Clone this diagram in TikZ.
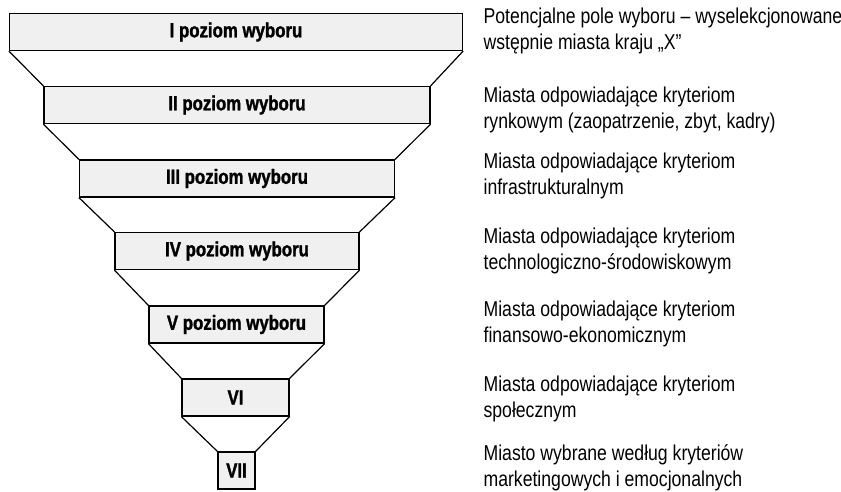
\documentclass[tikz,border=0pt]{standalone}
\usepackage{fontspec}
\setmainfont{Liberation Sans}[FakeStretch=0.82,BoldFeatures={FakeBold=1.5}]
\usetikzlibrary{positioning}

\begin{document}
\begin{tikzpicture}
		[x=1pt,y=-1pt,line width=1.2pt,
		level box/.style={draw,fill=black!6,minimum height=37pt,inner sep=0pt,font=\fontsize{20.5}{22}\selectfont\bfseries},
		desc/.style={anchor=west,align=left,inner sep=0pt,font=\fontsize{21.5}{26}\selectfont}]
		\useasboundingbox (0,0) rectangle (841,491);
		
		\node[level box,minimum width=453pt] (lvl1) at (236,32) {I poziom wyboru};
		\node[level box,minimum width=386pt] (lvl2) at (237,105) {II poziom wyboru};
		\node[level box,minimum width=315pt] (lvl3) at (237,178.5) {III poziom wyboru};
		\node[level box,minimum width=244pt] (lvl4) at (237,251) {IV poziom wyboru};
		\node[level box,minimum width=175pt] (lvl5) at (236.5,324.5) {V poziom wyboru};
		\node[level box,minimum width=107pt] (lvl6) at (235.5,397.5) {VI};
		\node[level box,minimum width=37pt] (lvl7) at (236.5,470.5) {VII};
		
		\draw (lvl1.south west) -- (lvl2.north west);
		\draw (lvl1.south east) -- (lvl2.north east);
		\draw (lvl2.south west) -- (lvl3.north west);
		\draw (lvl2.south east) -- (lvl3.north east);
		\draw (lvl3.south west) -- (lvl4.north west);
		\draw (lvl3.south east) -- (lvl4.north east);
		\draw (lvl4.south west) -- (lvl5.north west);
		\draw (lvl4.south east) -- (lvl5.north east);
		\draw (lvl5.south west) -- (lvl6.north west);
		\draw (lvl5.south east) -- (lvl6.north east);
		\draw (lvl6.south west) -- (lvl7.north west);
		\draw (lvl6.south east) -- (lvl7.north east);
		
		\node[desc] (desc1) at (483,31) {Potencjalne pole wyboru -- wyselekcjonowane\\wstępnie miasta kraju „X''};
		\node[desc] (desc2) at (483,110) {Miasta odpowiadające kryteriom\\rynkowym (zaopatrzenie, zbyt, kadry)};
		\node[desc] (desc3) at (483,175.5) {Miasta odpowiadające kryteriom\\infrastrukturalnym};
		\node[desc] (desc4) at (483,251) {Miasta odpowiadające kryteriom\\technologiczno-środowiskowym};
		\node[desc] (desc5) at (483,323.5) {Miasta odpowiadające kryteriom\\finansowo-ekonomicznym};
		\node[desc] (desc6) at (483,398.5) {Miasta odpowiadające kryteriom\\społecznym};
		\node[desc] (desc7) at (483,467.5) {Miasto wybrane według kryteriów\\marketingowych i emocjonalnych};
		\end{tikzpicture}
\end{document}
